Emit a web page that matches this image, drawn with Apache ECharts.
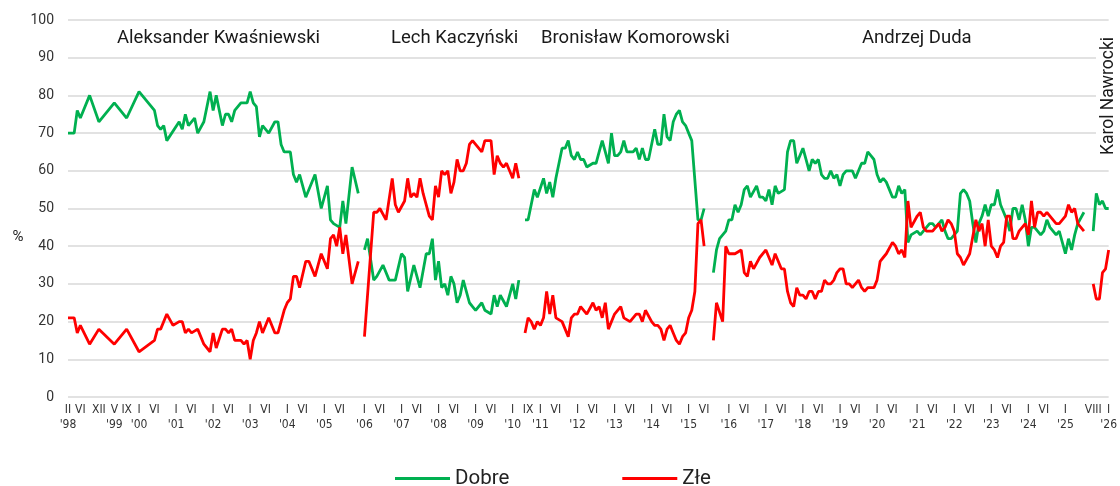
<!DOCTYPE html>
<html><head><meta charset="utf-8">
<script src="https://cdn.jsdelivr.net/npm/echarts@6/dist/echarts.min.js"></script>
<style>html,body{margin:0;padding:0;background:#fff}#c{width:1120px;height:486px}</style>
</head><body><div id="c"></div>
<script>
// ---- axis structure: survey months, 'gap' = empty slot between terms ----
const axisSegments = [['1998-02','2005-12'],'gap',['2006-01','2010-03'],'gap',['2010-08','2015-07'],'gap',
  ['2015-08','2020-12'],'gap',['2021-01','2025-07'],'gap','gap',['2025-08','2026-01']];

const tickMonths = ['1998-02','1998-06','1998-12','1999-05','1999-09','2000-01','2000-06',
 '2001-01','2001-06','2002-01','2002-06','2003-01','2003-06','2004-01','2004-06','2005-01','2005-06',
 '2006-01','2006-06','2007-01','2007-06','2008-01','2008-06','2009-01','2009-06','2010-01','2010-09',
 '2011-01','2011-06','2012-01','2012-06','2013-01','2013-06','2014-01','2014-06','2015-01','2015-06',
 '2016-01','2016-06','2017-01','2017-06','2018-01','2018-06','2019-01','2019-06','2020-01','2020-06',
 '2021-01','2021-06','2022-01','2022-06','2023-01','2023-06','2024-01','2024-06','2025-01','2025-08','2026-01'];
const roman = ['I','II','III','IV','V','VI','VII','VIII','IX','X','XI','XII'];

// ---- presidents (first month of each data array) ----
const presidentNames = ['Aleksander Kwaśniewski','Lech Kaczyński','Bronisław Komorowski','Andrzej Duda','Karol Nawrocki'];
const presidentStart = ['1998-02','2006-01','2010-08','2015-08','2025-08'];

// ---- values (%), one entry per month from the start month, null = no survey point ----
const kwasniewskiDobre = [70,null,70,76,74,null,null,80,null,null, 73,null,null,null,null,78,null,null,null,74,
 null,null,null,81,null,null,null,null,76,72, 71,72,68,null,null,null,73,71,75,72,
 null,74,70,null,73,null,81,76,80,null, 72,75,75,73,76,null,78,null,78,81,
 78,77,69,72,null,70,null,73,73,67, 65,null,65,59,57,59,null,53,null,null,
 59,null,50,null,56,47,46,null,45,52, 46,null,61,null,54];
const kwasniewskiZle = [21,null,21,17,19,null,null,14,null,null, 18,null,null,null,null,14,null,null,null,18,
 null,null,null,12,null,null,null,null,15,18, 18,null,22,null,19,null,20,20,17,18,
 17,null,18,null,14,null,12,17,13,null, 18,18,17,18,15,null,15,14,15,10,
 15,17,20,17,null,21,null,17,17,null, 23,25,26,32,32,29,null,36,36,null,
 32,null,38,null,34,42,43,40,45,38, 43,null,30,null,36];

const kaczynskiDobre = [39,42,null,31,32,null,35,null,31,null, 31,null,38,37,28,null,35,null,29,null,
 38,38,42,31,36,29,30,27,32,30, 25,27,31,null,25,24,23,null,25,23, null,22,27,24,27,null,24,null,30,26,31];
const kaczynskiZle = [16,null,null,49,49,50,null,47,null,58, 51,49,null,52,58,53,54,53,58,54,
 null,48,47,56,53,60,59,60,54,57, 63,60,60,62,67,68,67,null,65,68, null,68,59,64,62,61,62,60,58,62,58];

const komorowskiDobre = [47,47,51,55,53,null,58,54,57,53, 58,null,66,66,68,64,63,65,63,63,
 61,null,62,62,null,68,65,62,70,64, 64,65,68,65,null,65,66,63,66,63,
 63,null,71,67,67,75,69,68,73,75, 76,73,72,70,68,null,47,47,50,null];
const komorowskiZle = [17,21,20,18,20,19,21,28,22,27, 21,null,20,18,16,21,22,22,24,23,
 22,null,25,23,24,21,25,18,null,22, 23,24,21,null,20,21,22,22,20,23,
 null,20,19,19,18,15,18,19,17,15, 14,16,17,21,23,28,46,47,40,null];

const dudaDobre = [33,39,42,43,44,47,47,51,49,51, 55,56,53,null,56,53,53,52,55,51,
 56,54,null,55,65,68,68,62,64,66, 63,60,63,62,63,59,58,58,60,58,
 59,56,59,60,60,60,58,60,62,62, 65,64,63,59,57,58,57,55,53,53,
 56,54,55,41,43,null,44,43,44,45, 46,46,45,46,47,44,42,42,null,44,
 54,55,54,52,46,41,46,48,51,48, 51,51,55,51,49,47,44,50,50,47,
 51,47,40,45,45,44,43,44,47,45, 44,43,44,41,38,42,39,43,46,null, 49];
const dudaZle = [15,25,null,20,40,38,38,38,null,39, 33,32,36,34,null,37,null,39,37,35,
 38,null,34,34,28,25,24,29,27,27, 26,28,28,26,28,28,31,30,30,31,
 33,34,34,30,30,29,30,31,29,28, 29,null,29,31,36,37,38,null,41,40,
 38,39,37,52,45,null,48,49,45,44, 44,44,null,46,44,45,47,46,44,38,
 37,35,null,38,null,47,44,46,40,47, 40,39,37,40,41,48,48,42,42,44,
 45,46,43,52,45,49,49,48,49,48, 47,46,46,null,48,51,49,50,46,null, 44];

const nawrockiDobre = [44,54,51,52,50,50];
const nawrockiZle = [30,26,26,33,34,39];

// ---- build categories ----
function monthRange(a, b) {
  const out = []; let [y, m] = a.split('-').map(Number); const [y2, m2] = b.split('-').map(Number);
  while (y < y2 || (y === y2 && m <= m2)) { out.push(y + '-' + String(m).padStart(2, '0')); m++; if (m > 12) { m = 1; y++; } }
  return out;
}
const categories = []; let gapNo = 0;
axisSegments.forEach(s => { if (s === 'gap') categories.push('gap' + (gapNo++)); else categories.push(...monthRange(s[0], s[1])); });

function place(arr, start) {
  const out = new Array(categories.length).fill(null);
  const s = categories.indexOf(start);
  arr.forEach((v, k) => { out[s + k] = v; });
  return out;
}
const dobreSets = [kwasniewskiDobre, kaczynskiDobre, komorowskiDobre, dudaDobre, nawrockiDobre];
const zleSets = [kwasniewskiZle, kaczynskiZle, komorowskiZle, dudaZle, nawrockiZle];
const GREEN = '#00b050', RED = '#ff0000';
const series = [];
presidentStart.forEach((st, p) => {
  series.push({ type: 'line', name: 'Dobre', data: place(dobreSets[p], st), connectNulls: true, showSymbol: false,
    lineStyle: { color: GREEN, width: 2.8 }, itemStyle: { color: GREEN }, z: 3 });
  series.push({ type: 'line', name: 'Złe', data: place(zleSets[p], st), connectNulls: true, showSymbol: false,
    lineStyle: { color: RED, width: 2.8 }, itemStyle: { color: RED }, z: 4 });
});

const tickSet = new Set(tickMonths);
const yearTicks = new Set(tickMonths.filter((t, k) => k === 0 || tickMonths[k - 1].slice(0, 4) !== t.slice(0, 4)));
const labelFont = '"Liberation Sans Narrow", "DejaVu Sans Condensed", sans-serif';

const chart = echarts.init(document.getElementById('c'), null, { renderer: 'canvas' });
const nameFont = { fontFamily: 'Roboto, "Liberation Sans", sans-serif', fontSize: 18.5, fill: '#1a1a1a' };
const baseX = { type: 'category', data: categories, boundaryGap: false, position: 'bottom',
  axisLine: { show: false }, axisTick: { show: false }, splitLine: { show: false } };
chart.setOption({
  animation: false,
  backgroundColor: '#ffffff',
  grid: { left: 68, right: 6, top: 20, bottom: 89 },
  xAxis: [
    Object.assign({}, baseX, {
      axisLabel: { interval: (i, v) => tickSet.has(v), formatter: v => roman[+v.slice(5, 7) - 1],
        showMinLabel: true, showMaxLabel: true, hideOverlap: false,
        fontFamily: labelFont, fontSize: 12, color: '#333', margin: 7 } }),
    Object.assign({}, baseX, { offset: 15,
      axisLabel: { interval: (i, v) => yearTicks.has(v), formatter: v => "'" + v.slice(2, 4),
        showMinLabel: true, showMaxLabel: true, hideOverlap: false,
        fontFamily: labelFont, fontSize: 12, color: '#333', margin: 7 } })
  ],
  yAxis: {
    type: 'value', min: 0, max: 100, interval: 10,
    axisLine: { show: false }, axisTick: { show: false },
    splitLine: { lineStyle: { color: '#d9d9d9', width: 1.5 } },
    axisLabel: { fontFamily: 'Roboto, sans-serif', fontSize: 14, color: '#333', margin: 14 }
  },
  legend: {
    data: ['Dobre', 'Złe'], left: 395, top: 468, padding: 0, icon: 'rect', itemWidth: 55, itemHeight: 3, itemGap: 113,
    textStyle: { fontFamily: 'Roboto, sans-serif', fontSize: 20.5, color: '#222' }
  },
  graphic: [
    { type: 'text', x: 18, y: 237, style: { text: '%', align: 'center', verticalAlign: 'middle',
        fontFamily: 'Roboto, sans-serif', fontSize: 15, fill: '#222' } },
    { type: 'text', left: 117, top: 29, style: Object.assign({ text: presidentNames[0] }, nameFont) },
    { type: 'text', left: 391, top: 29, style: Object.assign({ text: presidentNames[1] }, nameFont) },
    { type: 'text', left: 541, top: 29, style: Object.assign({ text: presidentNames[2] }, nameFont) },
    { type: 'text', left: 862, top: 29, style: Object.assign({ text: presidentNames[3] }, nameFont) },
    { type: 'text', x: 1109, y: 96, rotation: Math.PI / 2, z: 100,
      style: Object.assign({}, nameFont, { text: presidentNames[4], align: 'center', verticalAlign: 'middle',
        fontSize: 17.5, backgroundColor: '#fff', padding: [4, 5] }) }
  ],
  series: series
});
</script></body></html>
